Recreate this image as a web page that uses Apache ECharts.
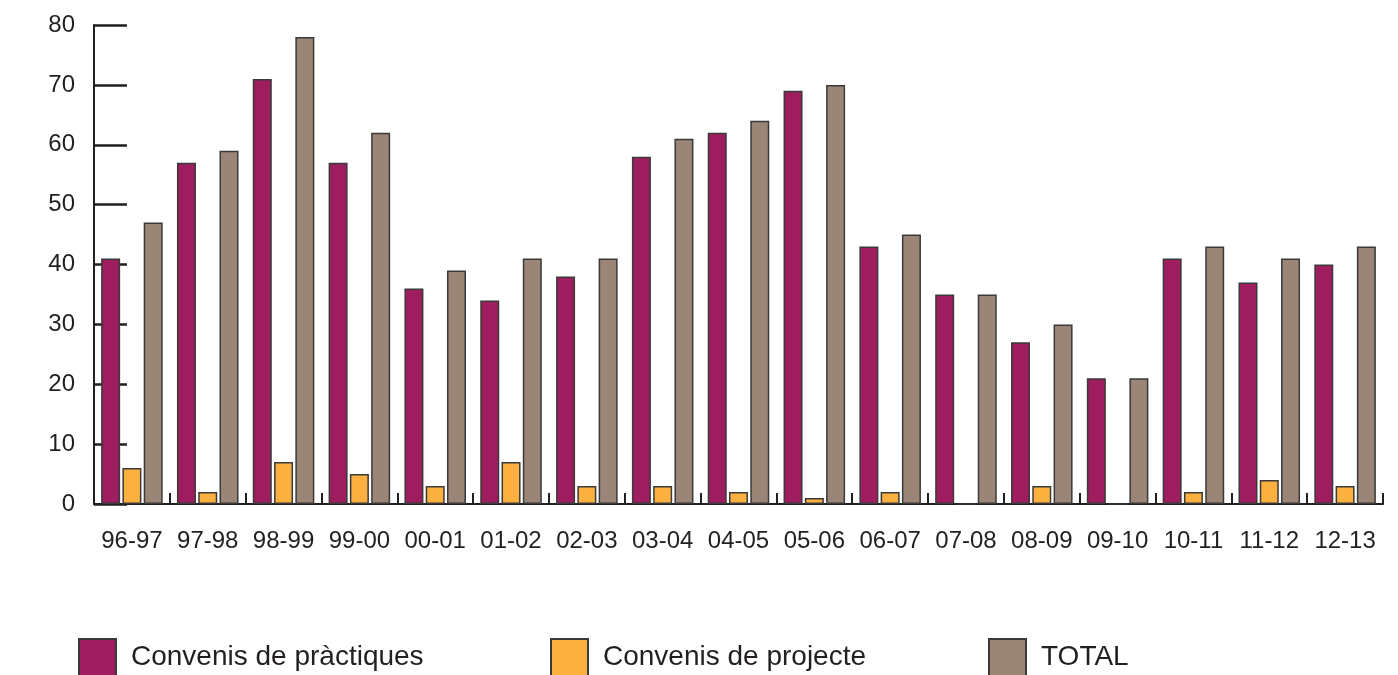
<!DOCTYPE html>
<html>
<head>
<meta charset="utf-8">
<script src="https://cdn.jsdelivr.net/npm/echarts@6/dist/echarts.min.js"></script>
<style>
html,body{margin:0;padding:0;background:#fff;}
#c{width:1398px;height:675px;}
</style>
</head>
<body>
<div id="c"></div>
<script>
var categories = ['96-97','97-98','98-99','99-00','00-01','01-02','02-03','03-04','04-05','05-06','06-07','07-08','08-09','09-10','10-11','11-12','12-13'];
var practiques = [41,57,71,57,36,34,38,58,62,69,43,35,27,21,41,37,40];
var projecte = [6,2,7,5,3,7,3,3,2,1,2,0,3,0,2,4,3];
var total = [47,59,78,62,39,41,41,61,64,70,45,35,30,21,43,41,43];
var seriesNames = ['Convenis de pràctiques','Convenis de projecte','TOTAL'];
var colors = ['#9E1D5E','#FBB040','#9B8576'];

var chart = echarts.init(document.getElementById('c'));
var font = '"Liberation Sans Narrow", "Liberation Sans", Arial, sans-serif';
var axisColor = '#231F20';
function mkSeries(i, data){
  return {
    name: seriesNames[i], type: 'bar', data: data,
    barWidth: 19, barGap: '12%',
    itemStyle: {color: colors[i], borderColor: '#3a3a3a', borderWidth: 1.5},
    emphasis: {disabled: true}
  };
}
function mkLegend(i, left){
  return {
    data: [{name: seriesNames[i], icon: 'rect'}], left: left, top: 638, padding: 0,
    itemWidth: 37, itemHeight: 37, itemGap: 10,
    textStyle: {fontSize: 28, color: '#231F20', fontFamily: font, padding: [0,0,0,10]},
    selectedMode: false
  };
}
chart.setOption({
  animation: false,
  backgroundColor: '#fff',
  grid: {left: 94, right: 15, top: 25, bottom: 171, containLabel: false},
  legend: [mkLegend(0, 78), mkLegend(1, 550), mkLegend(2, 988)],
  xAxis: {
    type: 'category', data: categories,
    axisLine: {lineStyle: {color: axisColor, width: 2}},
    axisTick: {show: true, inside: true, interval: 0, length: 11, lineStyle: {color: axisColor, width: 2}},
    axisLabel: {interval: 0, fontSize: 24, color: '#231F20', margin: 25, fontFamily: font},
    splitLine: {show: false}
  },
  yAxis: {
    type: 'value', min: 0, max: 80, interval: 10,
    axisLine: {show: true, lineStyle: {color: axisColor, width: 2}},
    axisTick: {show: true, inside: true, length: 33, lineStyle: {color: axisColor, width: 2.5}},
    axisLabel: {fontSize: 24, color: '#231F20', margin: 19, fontFamily: '"Liberation Sans", Arial, sans-serif'},
    splitLine: {show: false}
  },
  series: [mkSeries(0, practiques), mkSeries(1, projecte), mkSeries(2, total)]
});
</script>
</body>
</html>
